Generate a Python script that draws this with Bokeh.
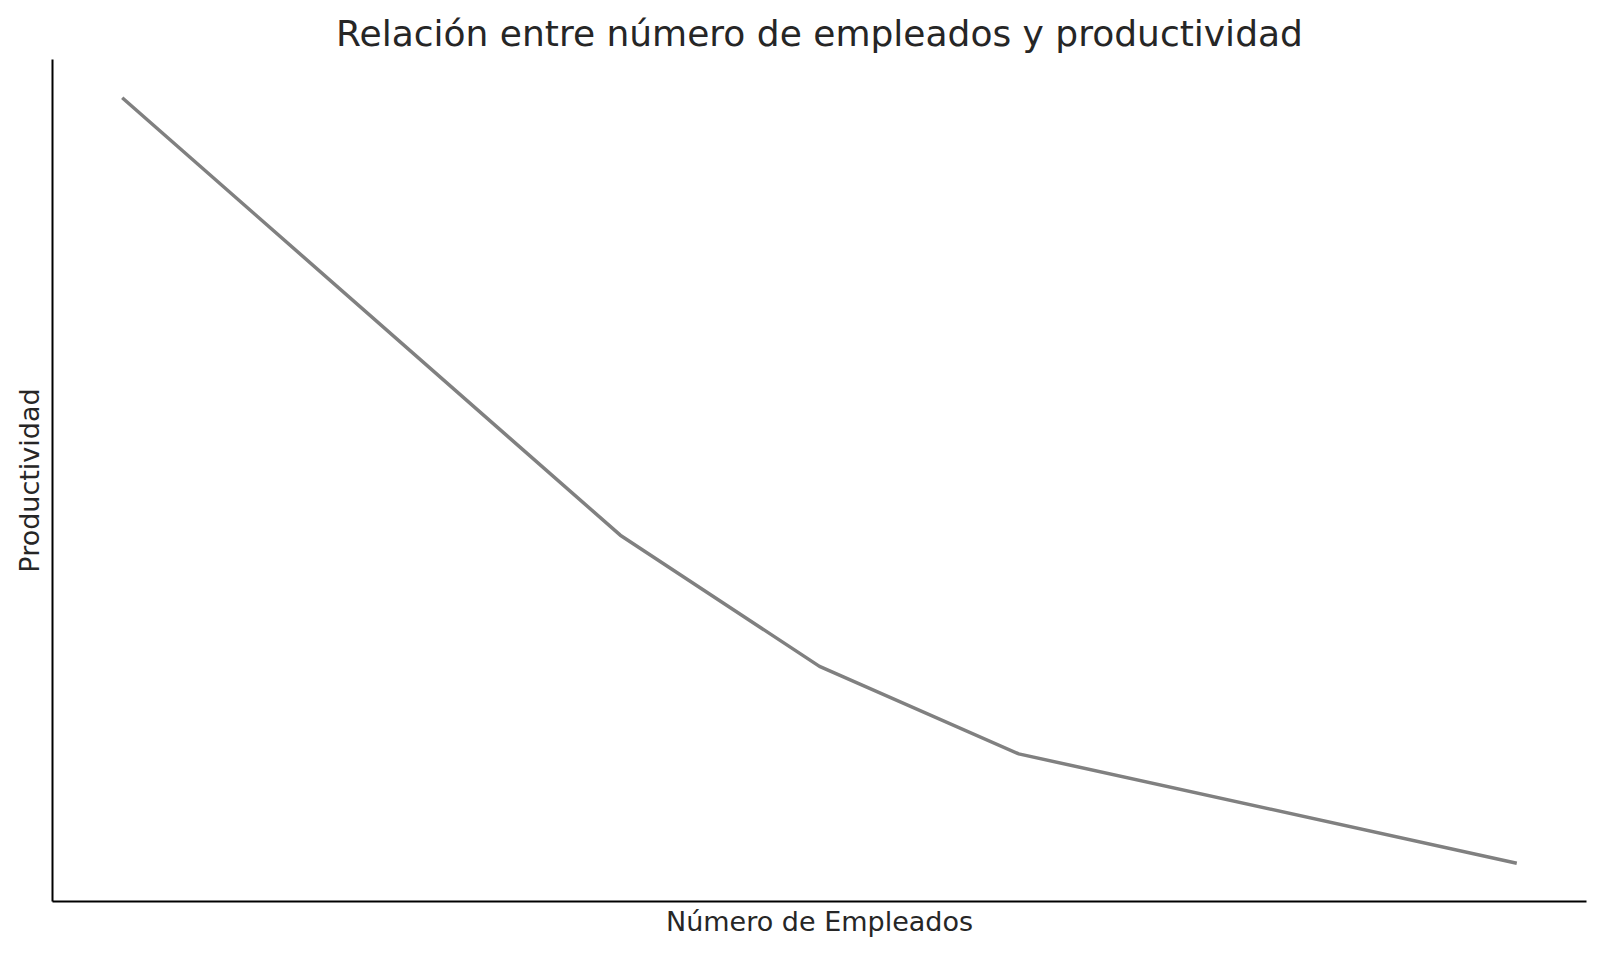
from bokeh.plotting import figure
from bokeh.models import Range1d, FixedTicker
from bokeh.embed import file_html
from bokeh.resources import INLINE

# Data
empleados = [10, 35, 45, 55, 80]
productividad = [100, 60, 48, 40, 30]
titulo = "Relación entre número de empleados y productividad"
etiqueta_x = "Número de Empleados"
etiqueta_y = "Productividad"

pad_x = (max(empleados) - min(empleados)) * 0.05
pad_y = (max(productividad) - min(productividad)) * 0.05

p = figure(
    width=1592, height=946,
    output_backend="svg", toolbar_location=None,
    x_range=Range1d(min(empleados) - pad_x, max(empleados) + pad_x),
    y_range=Range1d(min(productividad) - pad_y, max(productividad) + pad_y),
    min_border_left=52, min_border_right=6, min_border_top=59, min_border_bottom=45,
    background_fill_color="white", border_fill_color="white",
)
p.outline_line_color = None
p.xgrid.visible = False
p.ygrid.visible = False

p.title.text = titulo
p.title.align = "center"
p.title.text_font = "DejaVu Sans"
p.title.text_font_size = "36px"
p.title.text_font_style = "normal"
p.title.text_color = "#262626"
p.title.standoff = 12

for ax in (p.xaxis[0], p.yaxis[0]):
    ax.ticker = FixedTicker(ticks=[])
    ax.major_tick_line_color = None
    ax.minor_tick_line_color = None
    ax.axis_line_color = "#000000"
    ax.axis_line_width = 2
    ax.axis_label_text_font = "DejaVu Sans"
    ax.axis_label_text_font_size = "27px"
    ax.axis_label_text_font_style = "normal"
    ax.axis_label_text_color = "#262626"
    ax.major_label_text_font_size = "0px"

p.xaxis[0].axis_label_standoff = 4
p.yaxis[0].axis_label_standoff = 8

p.xaxis.axis_label = etiqueta_x
p.yaxis.axis_label = etiqueta_y

p.line(empleados, productividad, line_color="#808080", line_width=3.5)

open("out.html", "w").write(file_html(p, INLINE))
